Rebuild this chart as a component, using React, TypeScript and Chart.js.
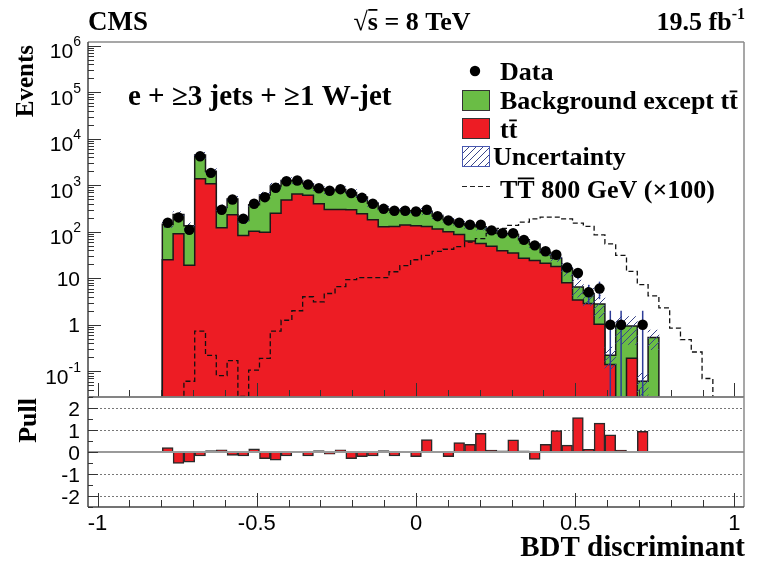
import React, { useEffect, useRef } from 'react';
import { Chart, registerables } from 'chart.js';

Chart.register(...registerables);

// ---------------- binning ----------------
const N_BINS = 59;
const X_LOW = -1;
const X_HIGH = 1;
const FIRST_BIN = 6; // first filled bin (values below start here)

// ---------------- values (bins from FIRST_BIN on) ----------------
const dataEvents = [
  156, 203, 110, 4190, 1846, 297, 493, 190, 399, 553, 880, 1219, 1262, 1036, 863, 759,
  822, 675, 536, 399, 311, 282, 282, 273, 297, 216, 175, 156, 141, 141, 107, 93, 93, 67,
  51, 38, 32, 17, 13, 5, 6, 1, 1, 0, 1, 0,
];
const ttbarEvents = [
  25, 91, 19, 1370, 1070, 122, 232, 83, 103, 98, 251, 480, 650, 610, 400, 300, 300, 297,
  243, 181, 128, 130, 139, 134, 130, 115, 100, 87, 63, 56, 49, 39, 35, 27, 24, 21, 18, 8,
  3.4, 2.85, 1.02, 0.14, 0, 0.19, 0, 0,
];
const otherBkgEvents = [
  120, 144, 116, 3080, 930, 208, 273, 92, 277, 522, 709, 780, 620, 470, 455, 475, 510, 403,
  312, 229, 180, 160, 143, 149, 145, 102, 80, 63, 73, 72, 57, 53, 52, 40, 30, 15, 9, 8, 3.1,
  1.85, 1.78, 0.08, 0.94, 0.75, 0.061, 0.53,
];
const uncertaintyRel = [
  0.15, 0.15, 0.15, 0.15, 0.15, 0.15, 0.15, 0.15, 0.15, 0.15, 0.15, 0.15, 0.15, 0.15, 0.15,
  0.15, 0.15, 0.15, 0.15, 0.15, 0.15, 0.15, 0.15, 0.15, 0.15, 0.15, 0.15, 0.15, 0.15, 0.15,
  0.15, 0.15, 0.15, 0.15, 0.15, 0.15, 0.15, 0.3, 0.4, 0.45, 0.5, 0.5, 0.6, 0.6, 0.5, 0.45,
];
const pullValues = [
  0.2, -0.52, -0.46, -0.18, 0.06, 0.1, -0.15, -0.18, 0.14, -0.3, -0.37, -0.18, 0, -0.18,
  0.06, -0.1, 0.1, -0.3, -0.21, -0.18, 0.06, -0.18, 0, -0.21, 0.57, -0.03, -0.21, 0.43,
  0.35, 0.85, 0.09, 0.05, 0.55, 0.05, -0.34, 0.35, 0.97, 0.31, 1.57, 0.12, 1.31, 0.78,
  0.09, 0, 0.94, 0,
];
const signalEvents = [
  0, 0, 0.061, 0.73, 0.22, 0.081, 0.17, 0.029, 0.106, 0.19, 0.73, 1.25, 2.0, 4.0, 3.1, 4.7,
  6.6, 9.3, 10.3, 10.3, 10.3, 13.8, 18.6, 25, 31, 38, 42, 48, 60, 71, 92, 118, 137, 161,
  190, 206, 206, 190, 153, 130, 86, 55, 31, 14, 7.3, 4.2, 2.3, 0.85, 0.48, 0.26, 0.07,
];

// ---------------- axes / ticks ----------------
const Y_MIN = 0.028;
const Y_MAX = 1.2e6;
const X_MIN = -1.03;
const X_MAX = 1.03;
const PULL_MIN = -2.5;
const PULL_MAX = 2.5;
const logDecades = [-1, 0, 1, 2, 3, 4, 5, 6];
const pullTicks = [-2, -1, 0, 1, 2];
const xTickValues = [-1, -0.5, 0, 0.5, 1];
const xTickLabels = ['-1', '-0.5', '0', '0.5', '1'];

// ---------------- style ----------------
const SERIF = '"Liberation Serif", "Times New Roman", Times, serif';
const SANS = '"Liberation Sans", Arial, Helvetica, sans-serif';
const RED = '#ed1c24';
const GREEN = '#6abd45';
const HATCH = '#3a4688';
const ERR = '#2e3d98';
const FLOOR = 1e-5;

const binLow = (k: number) => X_LOW + ((X_HIGH - X_LOW) * k) / N_BINS;
const binCenter = (k: number) => binLow(k + 0.5);

function stepPoints(values: number[]) {
  const pts: { x: number; y: number }[] = [{ x: binLow(0), y: FLOOR }];
  values.forEach((v, i) => pts.push({ x: binLow(FIRST_BIN + i), y: v > 0 ? v : FLOOR }));
  pts.push({ x: binLow(FIRST_BIN + values.length), y: FLOOR });
  return pts;
}

type Run = { t: string; f: string; dy?: number; over?: boolean | number };

function drawRuns(
  ctx: CanvasRenderingContext2D,
  runs: Run[],
  x: number,
  y: number,
  align: 'left' | 'right' | 'center' = 'left'
) {
  let total = 0;
  for (const r of runs) {
    ctx.font = r.f;
    total += ctx.measureText(r.t).width;
  }
  let cx = align === 'left' ? x : align === 'right' ? x - total : x - total / 2;
  ctx.textAlign = 'left';
  ctx.textBaseline = 'alphabetic';
  for (const r of runs) {
    ctx.font = r.f;
    const m = ctx.measureText(r.t);
    const by = y + (r.dy || 0);
    ctx.fillText(r.t, cx, by);
    if (r.over) {
      const top = typeof r.over === 'number' ? by - r.over : by - m.actualBoundingBoxAscent - 3.5;
      ctx.fillRect(cx + 0.5, top, m.width - 1, 1.8);
    }
    cx += m.width;
  }
}

function line(ctx: CanvasRenderingContext2D, x1: number, y1: number, x2: number, y2: number) {
  ctx.beginPath();
  ctx.moveTo(x1, y1);
  ctx.lineTo(x2, y2);
  ctx.stroke();
}

function makeHatch(target: HTMLCanvasElement) {
  const s = 7;
  const c = document.createElement('canvas');
  c.width = s;
  c.height = s;
  const g = c.getContext('2d')!;
  g.strokeStyle = HATCH;
  g.lineWidth = 1;
  g.beginPath();
  g.moveTo(0, s);
  g.lineTo(s, 0);
  g.moveTo(-1, 1);
  g.lineTo(1, -1);
  g.moveTo(s - 1, s + 1);
  g.lineTo(s + 1, s - 1);
  g.stroke();
  return target.getContext('2d')!.createPattern(c, 'repeat')!;
}

function drawFrame(ctx: CanvasRenderingContext2D, a: any) {
  ctx.lineWidth = 1.5;
  ctx.strokeStyle = '#8a8a8a';
  line(ctx, a.left, a.top, a.right, a.top);
  line(ctx, a.right, a.top, a.right, a.bottom);
  ctx.strokeStyle = '#444';
  line(ctx, a.left, a.top, a.left, a.bottom);
  line(ctx, a.left, a.bottom, a.right, a.bottom);
}

function drawXTicks(ctx: CanvasRenderingContext2D, a: any, x: any) {
  ctx.strokeStyle = '#333';
  ctx.lineWidth = 1;
  for (let i = -10; i <= 10; i++) {
    const px = Math.round(x.getPixelForValue(i / 10)) + 0.5;
    const len = i % 5 === 0 ? 14 : 7;
    line(ctx, px, a.bottom, px, a.bottom - len);
  }
}

export default function App() {
  const topRef = useRef<HTMLCanvasElement>(null);
  const botRef = useRef<HTMLCanvasElement>(null);

  useEffect(() => {
    const topCanvas = topRef.current!;
    const botCanvas = botRef.current!;
    const hatch = makeHatch(topCanvas);

    const totals = ttbarEvents.map((t, i) => t + otherBkgEvents[i]);
    const dataPoints = dataEvents
      .map((d, i) => ({ x: binCenter(FIRST_BIN + i), y: d }))
      .filter((p) => p.y > 0);
    const bandBars = totals.map((t, i) => ({
      x: binCenter(FIRST_BIN + i),
      y: [t * (1 - uncertaintyRel[i]), t * (1 + uncertaintyRel[i])],
    }));

    const upperDecor = {
      id: 'upperDecor',
      beforeDatasetDraw(chart: any, args: any) {
        if (args.index !== 0) return;
        const { ctx, chartArea: a, scales } = chart;
        const { x, y } = scales;
        ctx.save();
        ctx.beginPath();
        ctx.rect(a.left, a.top, a.right - a.left, a.bottom - a.top);
        ctx.clip();
        ctx.strokeStyle = ERR;
        ctx.lineWidth = 1.5;
        dataEvents.forEach((d, i) => {
          if (d <= 0) return;
          const e = Math.sqrt(d);
          const px = x.getPixelForValue(binCenter(FIRST_BIN + i));
          const hi = y.getPixelForValue(d + e);
          const lo = d - e > 0 ? y.getPixelForValue(d - e) : a.bottom;
          line(ctx, px, hi, px, lo);
        });
        ctx.restore();
      },
      afterDraw(chart: any) {
        const { ctx, chartArea: a, scales } = chart;
        const { x, y } = scales;
        ctx.save();
        drawFrame(ctx, a);
        // log ticks
        ctx.strokeStyle = '#333';
        ctx.lineWidth = 1;
        for (let e = -2; e <= 6; e++) {
          for (let m = 1; m <= 9; m++) {
            const v = m * Math.pow(10, e);
            if (v < Y_MIN || v > Y_MAX) continue;
            const py = Math.round(y.getPixelForValue(v)) + 0.5;
            line(ctx, a.left, py, a.left + (m === 1 ? 13 : 6), py);
          }
        }
        drawXTicks(ctx, a, x);

        // y labels
        ctx.fillStyle = '#000';
        const L = `21px ${SANS}`;
        const S = `14px ${SANS}`;
        for (const e of logDecades) {
          const py = y.getPixelForValue(Math.pow(10, e));
          if (e === 0) drawRuns(ctx, [{ t: '1', f: L }], 80, py + 7.5, 'right');
          else if (e === 1) drawRuns(ctx, [{ t: '10', f: L }], 80, py + 7.5, 'right');
          else drawRuns(ctx, [{ t: '10', f: L, dy: 5 }, { t: String(e), f: S, dy: -7 }], 81, py + 7.5, 'right');
        }

        // title Events
        ctx.save();
        ctx.translate(33, 45);
        ctx.rotate(-Math.PI / 2);
        ctx.font = `bold 25px ${SERIF}`;
        ctx.textAlign = 'right';
        ctx.textBaseline = 'alphabetic';
        ctx.fillText('Events', 0, 0);
        ctx.restore();

        // header
        const B = `bold 26px ${SERIF}`;
        drawRuns(ctx, [{ t: 'CMS', f: `bold 27px ${SERIF}` }], 88, 30, 'left');
        ctx.font = B;
        const sqrtAsc = ctx.measureText('\u221A').actualBoundingBoxAscent;
        drawRuns(ctx, [{ t: '\u221A', f: B }, { t: 's', f: B, over: sqrtAsc }, { t: ' = 8 TeV', f: B }], 412, 30, 'center');
        drawRuns(ctx, [{ t: '19.5 fb', f: B }, { t: '-1', f: `bold 16px ${SERIF}`, dy: -11 }], 745, 30, 'right');

        // selection label
        drawRuns(ctx, [{ t: 'e + \u22653 jets + \u22651 W-jet', f: `bold 29px ${SERIF}` }], 128, 105, 'left');

        // legend
        const LG = `bold 26px ${SERIF}`;
        ctx.fillStyle = '#000';
        ctx.beginPath();
        ctx.arc(475, 71, 5.2, 0, Math.PI * 2);
        ctx.fill();
        drawRuns(ctx, [{ t: 'Data', f: LG }], 500, 80);

        ctx.lineWidth = 1;
        ctx.strokeStyle = '#333';
        ctx.fillStyle = GREEN;
        ctx.fillRect(462.5, 90.5, 27, 20);
        ctx.strokeRect(462.5, 90.5, 27, 20);
        ctx.fillStyle = '#000';
        drawRuns(ctx, [{ t: 'Background except t', f: LG }, { t: 't', f: LG, over: true }], 500, 109);

        ctx.fillStyle = RED;
        ctx.fillRect(462.5, 118.5, 27, 20);
        ctx.strokeRect(462.5, 118.5, 27, 20);
        ctx.fillStyle = '#000';
        drawRuns(ctx, [{ t: 't', f: LG }, { t: 't', f: LG, over: true }], 500, 138);

        ctx.fillStyle = hatch;
        ctx.fillRect(462.5, 146.5, 27, 20);
        ctx.strokeStyle = '#4858b0';
        ctx.strokeRect(462.5, 146.5, 27, 20);
        ctx.fillStyle = '#000';
        drawRuns(ctx, [{ t: 'Uncertainty', f: LG }], 493, 165);

        ctx.strokeStyle = '#222';
        ctx.lineWidth = 1.2;
        ctx.setLineDash([5, 3]);
        line(ctx, 462, 186.5, 490, 186.5);
        ctx.setLineDash([]);
        drawRuns(ctx, [{ t: 'T', f: LG }, { t: 'T', f: LG, over: true }, { t: ' 800 GeV (\u00D7100)', f: LG }], 500, 198);
        ctx.restore();
      },
    };

    const top = new Chart(topCanvas, {
      type: 'line',
      data: {
        datasets: [
          {
            type: 'line',
            label: 'Data',
            data: dataPoints,
            showLine: false,
            pointRadius: 5.2,
            pointBackgroundColor: '#000',
            pointBorderColor: '#000',
            pointBorderWidth: 0,
            order: 0,
          } as any,
          {
            type: 'bar',
            label: 'Uncertainty',
            data: bandBars,
            backgroundColor: hatch,
            borderWidth: 0,
            barPercentage: 1,
            categoryPercentage: 1,
            grouped: false,
            order: 1,
          } as any,
          {
            type: 'line',
            label: 'TT 800 GeV (x100)',
            data: stepPoints(signalEvents),
            stepped: true,
            borderColor: '#111',
            borderWidth: 1.3,
            borderDash: [5, 3],
            fill: false,
            pointRadius: 0,
            order: 2,
          } as any,
          {
            type: 'line',
            label: 'tt',
            data: stepPoints(ttbarEvents),
            stepped: true,
            borderColor: '#1a1a1a',
            borderWidth: 1.5,
            backgroundColor: RED,
            fill: 'start',
            pointRadius: 0,
            order: 3,
          } as any,
          {
            type: 'line',
            label: 'Background except tt',
            data: stepPoints(totals),
            stepped: true,
            borderColor: '#1a1a1a',
            borderWidth: 1.5,
            backgroundColor: GREEN,
            fill: 'start',
            pointRadius: 0,
            order: 4,
          } as any,
        ],
      },
      options: {
        animation: false,
        responsive: false,
        devicePixelRatio: 1,
        events: [],
        layout: { padding: { left: 88, right: 17, top: 42, bottom: 165 } },
        plugins: { legend: { display: false }, tooltip: { enabled: false } },
        scales: {
          x: { type: 'linear', min: X_MIN, max: X_MAX, offset: false, display: false },
          y: { type: 'logarithmic', min: Y_MIN, max: Y_MAX, display: false },
        },
      } as any,
      plugins: [upperDecor],
    });

    const pullDecor = {
      id: 'pullDecor',
      beforeDatasetsDraw(chart: any) {
        const { ctx, chartArea: a, scales } = chart;
        const { y } = scales;
        ctx.save();
        ctx.strokeStyle = '#777';
        ctx.lineWidth = 1;
        ctx.setLineDash([2, 2]);
        for (const v of pullTicks) {
          if (v === 0) continue;
          const py = Math.round(y.getPixelForValue(v)) + 0.5;
          line(ctx, a.left, py, a.right, py);
        }
        ctx.restore();
      },
      afterDraw(chart: any) {
        const { ctx, chartArea: a, scales } = chart;
        const { x, y } = scales;
        ctx.save();
        ctx.strokeStyle = '#9a9a9a';
        ctx.lineWidth = 2;
        const zy = y.getPixelForValue(0);
        line(ctx, a.left, zy, a.right, zy);
        drawFrame(ctx, a);
        ctx.strokeStyle = '#333';
        ctx.lineWidth = 1;
        for (let v = PULL_MIN; v <= PULL_MAX + 1e-9; v += 0.5) {
          const py = Math.round(y.getPixelForValue(v)) + 0.5;
          const major = Math.abs(v - Math.round(v)) < 1e-9;
          line(ctx, a.left, py, a.left + (major ? 10 : 5), py);
        }
        drawXTicks(ctx, a, x);

        ctx.fillStyle = '#000';
        const L = `21px ${SANS}`;
        for (const v of pullTicks) {
          drawRuns(ctx, [{ t: String(v), f: L }], 80, y.getPixelForValue(v) + 7.5, 'right');
        }
        const XL = `22px ${SANS}`;
        xTickValues.forEach((v, i) => {
          drawRuns(ctx, [{ t: xTickLabels[i], f: XL }], x.getPixelForValue(v), 530, 'center');
        });

        ctx.save();
        ctx.translate(36, 398);
        ctx.rotate(-Math.PI / 2);
        ctx.font = `bold 26px ${SERIF}`;
        ctx.textAlign = 'right';
        ctx.textBaseline = 'alphabetic';
        ctx.fillText('Pull', 0, 0);
        ctx.restore();

        drawRuns(ctx, [{ t: 'BDT discriminant', f: `bold 29px ${SERIF}` }], 745, 556, 'right');
        ctx.restore();
      },
    };

    const bot = new Chart(botCanvas, {
      type: 'bar',
      data: {
        datasets: [
          {
            label: 'Pull',
            data: pullValues.map((p, i) => ({ x: binCenter(FIRST_BIN + i), y: p === 0 ? null : p })),
            backgroundColor: RED,
            borderColor: '#2a2a2a',
            borderWidth: 1.5,
            borderSkipped: 'start',
            barPercentage: 1,
            categoryPercentage: 1,
          } as any,
        ],
      },
      options: {
        animation: false,
        responsive: false,
        devicePixelRatio: 1,
        events: [],
        layout: { padding: { left: 88, right: 17, top: 397, bottom: 55 } },
        plugins: { legend: { display: false }, tooltip: { enabled: false } },
        scales: {
          x: { type: 'linear', min: X_MIN, max: X_MAX, offset: false, display: false },
          y: { type: 'linear', min: PULL_MIN, max: PULL_MAX, display: false },
        },
      } as any,
      plugins: [pullDecor],
    });

    return () => {
      top.destroy();
      bot.destroy();
    };
  }, []);

  return (
    <div style={{ position: 'absolute', left: 0, top: 0, width: 761, height: 562, background: '#fff' }}>
      <canvas ref={topRef} width={761} height={562} style={{ position: 'absolute', left: 0, top: 0 }} />
      <canvas ref={botRef} width={761} height={562} style={{ position: 'absolute', left: 0, top: 0 }} />
    </div>
  );
}
